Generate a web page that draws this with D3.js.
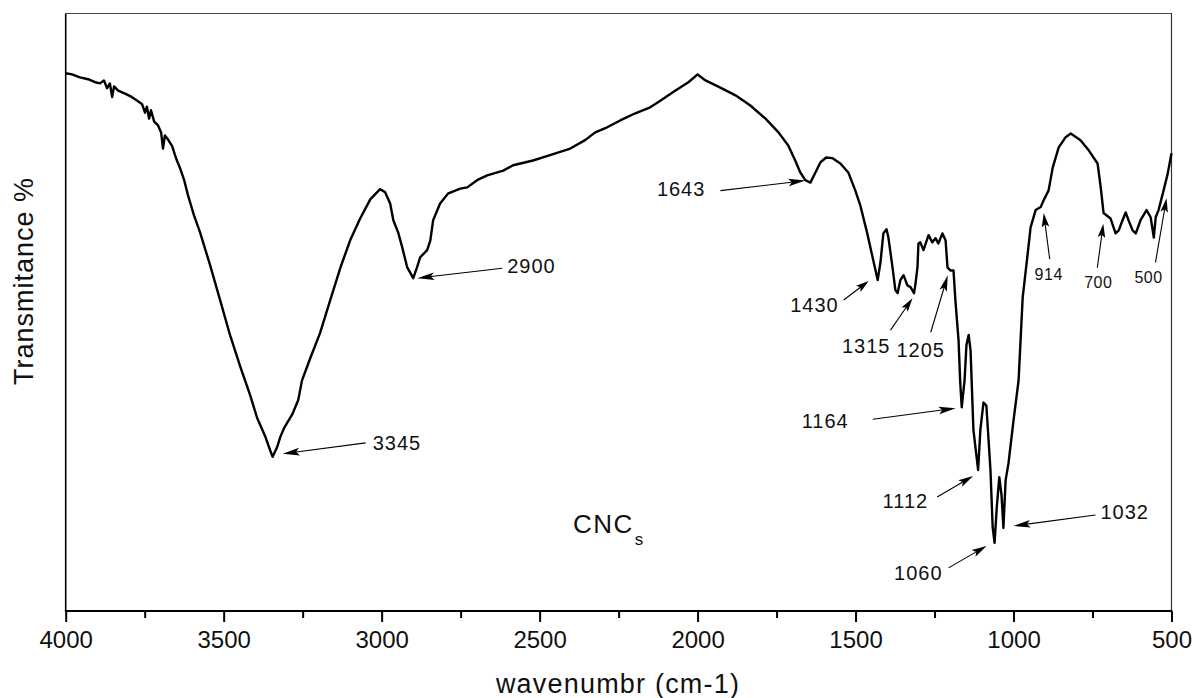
<!DOCTYPE html>
<html>
<head>
<meta charset="utf-8">
<script src="https://cdn.jsdelivr.net/npm/d3@7"></script>
<style>
  html, body { margin: 0; padding: 0; background: #fff; }
  svg { display: block; font-family: Arial, "Liberation Sans", sans-serif; }
</style>
</head>
<body>
<svg id="chart" width="1194" height="698"></svg>
<script>
// FTIR spectrum of cellulose nanocrystals (wavenumber in cm-1, transmittance in arbitrary %)
const wavenumber = [
  4000, 3980, 3955, 3929, 3907, 3891, 3879, 3869, 3860, 3853,
  3847, 3834, 3812, 3790, 3771, 3758, 3749, 3743, 3736, 3730,
  3720, 3708, 3698, 3692, 3686, 3676, 3663, 3654, 3648, 3638,
  3625, 3613, 3594, 3575, 3543, 3511, 3480, 3448, 3416, 3394,
  3369, 3353, 3345, 3331, 3321, 3309, 3283, 3264, 3252, 3226,
  3195, 3163, 3131, 3100, 3068, 3036, 3005, 2989, 2973, 2963,
  2948, 2935, 2919, 2900, 2888, 2878, 2856, 2846, 2837, 2815,
  2789, 2751, 2729, 2698, 2666, 2615, 2584, 2521, 2467, 2403,
  2356, 2324, 2292, 2245, 2197, 2150, 2118, 2070, 2029, 2000,
  1975, 1928, 1880, 1833, 1785, 1744, 1713, 1691, 1675, 1659,
  1643, 1627, 1611, 1593, 1574, 1548, 1523, 1501, 1485, 1463,
  1444, 1430, 1421, 1412, 1402, 1396, 1383, 1374, 1367, 1358,
  1348, 1336, 1326, 1315, 1311, 1304, 1301, 1295, 1285, 1269,
  1257, 1247, 1238, 1225, 1215, 1209, 1200, 1190, 1184, 1174,
  1169, 1164, 1155, 1149, 1142, 1136, 1127, 1112, 1105, 1095,
  1086, 1073, 1066, 1060, 1053, 1045, 1038, 1032, 1025, 1016,
  1000, 984, 971, 955, 946, 930, 914, 905, 889, 876,
  857, 835, 819, 788, 762, 734, 724, 715, 693, 677,
  667, 655, 645, 636, 623, 613, 598, 579, 566, 556,
  550, 541, 525, 512, 500
];
const transmittance = [
  90.0, 89.8, 89.3, 89.0, 88.5, 88.3, 88.8, 87.5, 88.3, 86.0,
  87.8, 87.1, 86.6, 86.0, 85.3, 84.8, 83.4, 84.4, 82.4, 83.8,
  81.9, 81.3, 80.1, 77.4, 79.6, 78.9, 77.8, 76.3, 75.4, 74.1,
  72.1, 69.6, 66.2, 63.4, 57.9, 52.0, 46.2, 41.0, 36.1, 32.3,
  29.3, 26.9, 25.8, 27.4, 29.1, 30.6, 32.9, 35.3, 38.6, 42.3,
  46.5, 52.0, 57.4, 62.0, 65.7, 68.9, 70.6, 70.1, 68.2, 65.4,
  63.4, 60.9, 57.5, 55.7, 57.5, 59.2, 60.4, 62.0, 65.4, 68.2,
  69.9, 70.7, 70.9, 72.1, 72.9, 73.7, 74.6, 75.4, 76.3, 77.4,
  78.8, 80.1, 80.8, 82.1, 83.3, 84.3, 85.4, 87.1, 88.5, 89.8,
  88.8, 87.6, 86.3, 84.6, 82.4, 80.1, 77.9, 75.4, 73.4, 72.1,
  71.7, 73.4, 75.1, 75.9, 75.8, 74.9, 73.4, 70.4, 67.9, 63.2,
  58.7, 55.4, 58.4, 63.2, 63.9, 62.5, 57.5, 53.7, 53.2, 55.4,
  56.2, 54.5, 54.2, 53.2, 54.5, 57.5, 61.5, 61.7, 60.4, 62.9,
  61.7, 62.4, 61.5, 63.2, 62.0, 57.5, 57.0, 57.0, 52.0, 45.3,
  38.6, 34.1, 38.6, 44.5, 46.2, 43.6, 30.3, 23.6, 30.3, 34.9,
  34.4, 23.6, 14.0, 11.4, 17.4, 22.4, 19.4, 13.9, 21.9, 24.7,
  31.9, 38.6, 52.5, 59.9, 64.2, 67.1, 67.6, 68.7, 70.4, 74.2,
  77.6, 79.3, 79.9, 78.8, 77.1, 74.9, 70.9, 66.6, 65.7, 63.2,
  63.7, 65.4, 66.7, 65.4, 63.7, 63.2, 65.4, 67.1, 65.9, 62.5,
  65.9, 67.1, 70.4, 73.2, 76.6
];
const xTicks = [4000, 3500, 3000, 2500, 2000, 1500, 1000, 500];
const xMinorTicks = [3750, 3250, 2750, 2250, 1750, 1250, 750];
const peakLabels = [3345, 2900, 1643, 1430, 1315, 1205, 1164, 1112, 1060, 1032, 914, 700, 500];
const sampleName = "CNC";
const sampleSub = "s";
const xTitle = "wavenumbr (cm-1)";
const yTitle = "Transmitance %";

// ---- layout ----
const box = { left: 65.7, right: 1171.5, top: 13.5, bottom: 611 };
const x = d3.scaleLinear().domain([4000, 500]).range([box.left, box.right]);
const y = d3.scaleLinear().domain([0, 100]).range([box.bottom, box.top]);

const svg = d3.select("#chart");
const ink = "#111";

// frame
svg.append("line").attr("x1", box.left).attr("x2", box.right + 0.5)
  .attr("y1", box.top).attr("y2", box.top).attr("stroke", "#444").attr("stroke-width", 1);
svg.append("line").attr("x1", box.right).attr("x2", box.right)
  .attr("y1", box.top).attr("y2", box.bottom).attr("stroke", "#333").attr("stroke-width", 1.2);
svg.append("line").attr("x1", box.left).attr("x2", box.left)
  .attr("y1", box.top).attr("y2", box.bottom).attr("stroke", "#000").attr("stroke-width", 1.6);

// bottom axis: major ticks with labels, minor ticks without
const axisG = svg.append("g").attr("transform", `translate(0,${box.bottom})`);
axisG.call(d3.axisBottom(x).tickValues(xTicks).tickSize(11).tickPadding(9)
  .tickFormat(d3.format("d")));
axisG.select(".domain").remove();
axisG.selectAll(".tick line").attr("stroke", "#000").attr("stroke-width", 2);
axisG.selectAll(".tick text").attr("fill", ink).attr("font-size", 24)
  .attr("font-family", "Arial, 'Liberation Sans', sans-serif");

const minorG = svg.append("g").attr("transform", `translate(0,${box.bottom})`);
minorG.call(d3.axisBottom(x).tickValues(xMinorTicks).tickSize(7).tickFormat(""));
minorG.select(".domain").remove();
minorG.selectAll(".tick line").attr("stroke", "#000").attr("stroke-width", 2);

svg.append("line").attr("x1", box.left - 0.8).attr("x2", box.right + 0.6)
  .attr("y1", box.bottom).attr("y2", box.bottom).attr("stroke", "#000").attr("stroke-width", 2.2);

// axis titles
svg.append("text").attr("x", 618).attr("y", 693).attr("text-anchor", "middle")
  .attr("font-size", 27).attr("letter-spacing", 1.2).attr("fill", ink).text(xTitle);
svg.append("text").attr("transform", "translate(33,281) rotate(-90)").attr("text-anchor", "middle")
  .attr("font-size", 27).attr("letter-spacing", 1).attr("fill", ink).text(yTitle);

// spectrum
const pts = wavenumber.map((w, i) => [w, transmittance[i]]);
svg.append("path").datum(pts)
  .attr("fill", "none").attr("stroke", "#000").attr("stroke-width", 2.4)
  .attr("stroke-linejoin", "round")
  .attr("d", d3.line().x(d => x(d[0])).y(d => y(d[1])));

// transmittance at any wavenumber
function tAt(w) {
  for (let i = 0; i < wavenumber.length - 1; i++) {
    const a = wavenumber[i], b = wavenumber[i + 1];
    if (w <= a && w >= b) {
      const f = (a - w) / (a - b);
      return transmittance[i] + f * (transmittance[i + 1] - transmittance[i]);
    }
  }
  return transmittance[transmittance.length - 1];
}

// callout geometry: tip offset from the band, tail offset from tip, label offset from tail
const callouts = {
  3345: { tip: [10, -3],  tail: [83, -11], lab: [7, 7],    anchor: "start",  size: 20, head: 17 },
  2900: { tip: [4, 0],    tail: [85, -10], lab: [5, 5],    anchor: "start",  size: 20, head: 17 },
  1643: { tip: [-5, -2],  tail: [-85, 10], lab: [-15, 5],  anchor: "end",    size: 20, head: 17 },
  1430: { tip: [-9, 1],   tail: [-25, 19], lab: [-5, 12],  anchor: "end",    size: 20, head: 13 },
  1315: { tip: [-1.5, 5], tail: [-22, 32], lab: [0, 23],   anchor: "end",    size: 20, head: 14 },
  1205: { tip: [-1, 6.5], tail: [-17, 57], lab: [-10, 25], anchor: "middle", size: 20, head: 16 },
  1164: { tip: [-6, 1],   tail: [-83, 11], lab: [-24, 9],  anchor: "end",    size: 20, head: 17 },
  1112: { tip: [-5, 6],   tail: [-36, 21], lab: [-9, 11],  anchor: "end",    size: 20, head: 15 },
  1060: { tip: [-8, 3],   tail: [-38, 22], lab: [-6, 12],  anchor: "end",    size: 20, head: 15 },
  1032: { tip: [10, -2],  tail: [82, -11], lab: [5, 4],    anchor: "start",  size: 20, head: 17 },
  914:  { tip: [3, 6],    tail: [6, 46],   lab: [-1, 21],  anchor: "middle", size: 16, head: 14 },
  700:  { tip: [-5, 7],   tail: [-6, 44],  lab: [1, 20],   anchor: "middle", size: 16, head: 14 },
  500:  { tip: [-5, 45],  tail: [-11, 64], lab: [-7, 21],  anchor: "middle", size: 16, head: 14 }
};

const ann = svg.append("g");
peakLabels.forEach(w => {
  const c = callouts[w];
  const tx = x(w) + c.tip[0], ty = y(tAt(w)) + c.tip[1];
  const sx = tx + c.tail[0], sy = ty + c.tail[1];
  const len = Math.hypot(tx - sx, ty - sy);
  const ux = (tx - sx) / len, uy = (ty - sy) / len;
  const nx = -uy, ny = ux;
  const L = c.head, h = 3.8;
  ann.append("line").attr("x1", sx).attr("y1", sy)
    .attr("x2", tx - ux * L * 0.7).attr("y2", ty - uy * L * 0.7)
    .attr("stroke", "#000").attr("stroke-width", 1.1);
  ann.append("polygon")
    .attr("points", [
      [tx, ty],
      [tx - ux * L + nx * h, ty - uy * L + ny * h],
      [tx - ux * L * 0.8, ty - uy * L * 0.8],
      [tx - ux * L - nx * h, ty - uy * L - ny * h]
    ].map(p => p.join(",")).join(" "))
    .attr("fill", "#000");
  ann.append("text").attr("x", sx + c.lab[0]).attr("y", sy + c.lab[1])
    .attr("text-anchor", c.anchor).attr("font-size", c.size)
    .attr("letter-spacing", c.size > 18 ? 1 : 0.5)
    .attr("fill", ink).text(String(w));
});

// sample name
const name = svg.append("text").attr("x", 573).attr("y", 533)
  .attr("font-size", 26).attr("letter-spacing", 1.5).attr("fill", ink);
name.append("tspan").text(sampleName);
name.append("tspan").attr("font-size", 17).attr("dx", 1).attr("dy", 12).text(sampleSub);
</script>
</body>
</html>
